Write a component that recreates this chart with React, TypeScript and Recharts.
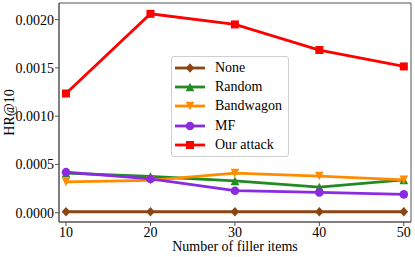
import React from "react";
import {
  LineChart,
  Line,
  XAxis,
  YAxis,
  ReferenceArea
} from "recharts";

const fillerItems = [10, 20, 30, 40, 50];
const noneValues = [0.00001, 0.00001, 0.00001, 0.00001, 0.00001];
const randomValues = [0.00041, 0.000375, 0.00033, 0.000265, 0.00034];
const bandwagonValues = [0.00032, 0.000335, 0.00041, 0.00038, 0.00034];
const mfValues = [0.00042, 0.00035, 0.000228, 0.00021, 0.00019];
const attackValues = [0.001235, 0.00206, 0.00195, 0.001685, 0.001515];
const yTicks = [0, 0.0005, 0.001, 0.0015, 0.002];

const X_DOMAIN: [number, number] = [9.17, 50.85];
const Y_DOMAIN: [number, number] = [-0.000096, 0.002172];

const FONT = "'Liberation Serif', 'DejaVu Serif', serif";

type Shape = "diamond" | "triangleUp" | "triangleDown" | "circle" | "square";

const SERIES: { key: string; name: string; color: string; shape: Shape; values: number[] }[] = [
  { key: "none", name: "None", color: "#8B4513", shape: "diamond", values: noneValues },
  { key: "random", name: "Random", color: "#228B22", shape: "triangleUp", values: randomValues },
  { key: "bandwagon", name: "Bandwagon", color: "#FF8C00", shape: "triangleDown", values: bandwagonValues },
  { key: "mf", name: "MF", color: "#8A2BE2", shape: "circle", values: mfValues },
  { key: "attack", name: "Our attack", color: "#FF0000", shape: "square", values: attackValues }
];

const data = fillerItems.map((x, i) => {
  const row: Record<string, number> = { x };
  SERIES.forEach(s => {
    row[s.key] = s.values[i];
  });
  return row;
});

function marker(shape: Shape, cx: number, cy: number, color: string, key?: React.Key) {
  const r = 4.3;
  switch (shape) {
    case "diamond":
      return <polygon key={key} points={`${cx},${cy - r - 0.5} ${cx + r},${cy} ${cx},${cy + r + 0.5} ${cx - r},${cy}`} fill={color} />;
    case "triangleUp":
      return <polygon key={key} points={`${cx},${cy - r} ${cx + r},${cy + r} ${cx - r},${cy + r}`} fill={color} />;
    case "triangleDown":
      return <polygon key={key} points={`${cx},${cy + r} ${cx + r},${cy - r} ${cx - r},${cy - r}`} fill={color} />;
    case "circle":
      return <circle key={key} cx={cx} cy={cy} r={r} fill={color} />;
    default:
      return <rect key={key} x={cx - 4} y={cy - 4} width={8} height={8} fill={color} />;
  }
}

// legend drawn by hand, matplotlib style box in the middle of the plot
function LegendBox() {
  return (
    <div
      style={{
        position: "absolute",
        left: 171,
        top: 56,
        background: "rgba(255,255,255,0.85)",
        border: "1px solid #d0d0d0",
        borderRadius: 3,
        padding: "1px 6px 2px 3px",
        fontFamily: FONT,
        fontSize: 14,
        lineHeight: "16px",
        color: "#000"
      }}
    >
      {SERIES.map(s => (
        <div key={s.key} style={{ display: "flex", alignItems: "center", height: 19.3 }}>
          <svg width={30} height={12} style={{ marginRight: 10, display: "block" }}>
            <line x1={0} y1={6} x2={30} y2={6} stroke={s.color} strokeWidth={2.8} />
            {marker(s.shape, 15, 6, s.color)}
          </svg>
          <span>{s.name}</span>
        </div>
      ))}
    </div>
  );
}

export default function App() {
  return (
    <div style={{ position: "absolute", left: 0, top: 0, width: 415, height: 257, background: "#fff", fontFamily: FONT }}>
      <LineChart width={415} height={257} data={data} margin={{ top: 3, right: 4, left: 0, bottom: 0 }}>
        <XAxis
          dataKey="x"
          type="number"
          domain={X_DOMAIN}
          ticks={fillerItems}
          allowDataOverflow
          stroke="#555"
          tickSize={4}
          tickMargin={1}
          height={35}
          tick={{ fill: "#000", fontSize: 14, fontFamily: FONT }}
          label={{
            content: ({ viewBox }: any) => (
              <text x={viewBox.x + viewBox.width / 2} y={251} textAnchor="middle" fontSize={14} fontFamily={FONT} fill="#000">
                Number of filler items
              </text>
            )
          }}
        />
        <YAxis
          type="number"
          domain={Y_DOMAIN}
          ticks={yTicks}
          allowDataOverflow
          width={59}
          stroke="#555"
          tickSize={4}
          tickMargin={1}
          tickFormatter={(v: number) => v.toFixed(4)}
          tick={{ fill: "#000", fontSize: 14, fontFamily: FONT }}
          label={{
            content: ({ viewBox }: any) => {
              const cy = viewBox.y + viewBox.height / 2;
              return (
                <text x={14} y={cy} transform={`rotate(-90, 14, ${cy})`} textAnchor="middle" fontSize={14} fontFamily={FONT} fill="#000">
                  HR@10
                </text>
              );
            }
          }}
        />
        {/* box around the plot area */}
        <ReferenceArea
          x1={X_DOMAIN[0]}
          x2={X_DOMAIN[1]}
          y1={Y_DOMAIN[0]}
          y2={Y_DOMAIN[1]}
          fill="none"
          fillOpacity={0}
          stroke="#555"
          strokeWidth={1}
          ifOverflow="visible"
        />
        {SERIES.map(s => (
          <Line
            key={s.key}
            dataKey={s.key}
            name={s.name}
            stroke={s.color}
            strokeWidth={2.8}
            isAnimationActive={false}
            dot={(p: any) => marker(s.shape, p.cx, p.cy, s.color, `${s.key}-${p.index}`)}
            activeDot={false}
          />
        ))}
      </LineChart>
      <LegendBox />
    </div>
  );
}
